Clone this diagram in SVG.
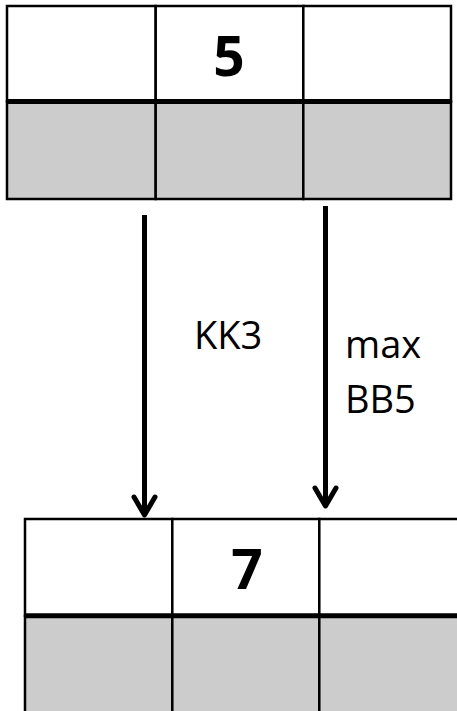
<svg xmlns="http://www.w3.org/2000/svg" width="457" height="711" viewBox="0 0 457 711">
  <style>
    .cell { stroke: #000; stroke-width: 2.5; }
    .top { fill: #ffffff; }
    .bot { fill: #cccccc; }
    .sep { stroke: #000; stroke-width: 5; }
    .val { font-family: "Open Sans", "Liberation Sans", sans-serif; font-weight: bold; font-size: 55px; fill: #000; text-anchor: middle; }
    .lbl { font-family: "Open Sans", "Liberation Sans", sans-serif; font-size: 38px; fill: #000; }
    .conn { stroke: #000; stroke-width: 5; fill: none; }
    .head { stroke: #000; stroke-width: 5; fill: none; stroke-linecap: round; stroke-linejoin: round; }
  </style>

  <!-- upper record -->
  <g id="record-upper">
    <rect class="cell top" x="7" y="6" width="148.7" height="95.5"/>
    <rect class="cell top" x="155.7" y="6" width="147.6" height="95.5"/>
    <rect class="cell top" x="303.3" y="6" width="147.7" height="95.5"/>
    <rect class="cell bot" x="7" y="101.5" width="148.7" height="97.5"/>
    <rect class="cell bot" x="155.7" y="101.5" width="147.6" height="97.5"/>
    <rect class="cell bot" x="303.3" y="101.5" width="147.7" height="97.5"/>
    <line class="sep" x1="7" y1="101.5" x2="451" y2="101.5"/>
    <text class="val" x="229" y="76">5</text>
  </g>

  <!-- lower record (runs past the right edge) -->
  <g id="record-lower">
    <rect class="cell top" x="25" y="519" width="147.3" height="96.7"/>
    <rect class="cell top" x="172.3" y="519" width="147" height="96.7"/>
    <rect class="cell top" x="319.3" y="519" width="160" height="96.7"/>
    <rect class="cell bot" x="25" y="615.7" width="147.3" height="110"/>
    <rect class="cell bot" x="172.3" y="615.7" width="147" height="110"/>
    <rect class="cell bot" x="319.3" y="615.7" width="160" height="110"/>
    <line class="sep" x1="25" y1="615.7" x2="480" y2="615.7"/>
    <text class="val" x="247" y="589">7</text>
  </g>

  <!-- connectors -->
  <g id="connectors">
    <line class="conn" x1="144.5" y1="215" x2="144.5" y2="515"/>
    <polyline class="head" points="134,497 144.5,515 155,497"/>
    <line class="conn" x1="325.5" y1="206" x2="325.5" y2="506"/>
    <polyline class="head" points="315,488 325.5,506 336,488"/>
  </g>

  <g id="labels">
    <text class="lbl" x="194" y="349">KK3</text>
    <text class="lbl" x="345" y="358">max</text>
    <text class="lbl" x="345" y="413">BB5</text>
  </g>
</svg>
